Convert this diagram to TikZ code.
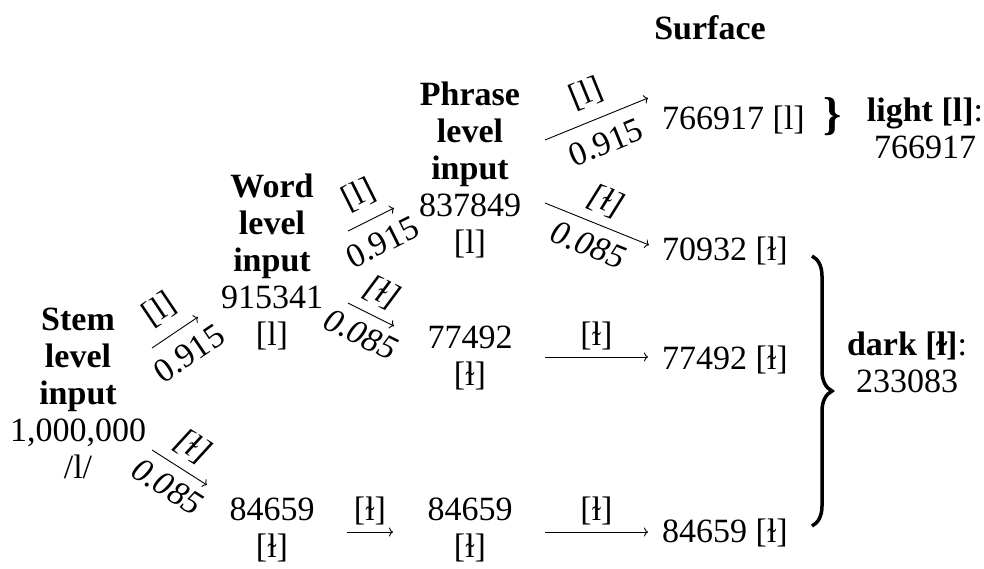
\documentclass[tikz,border=0pt]{standalone}
\usepackage{fontspec}
\setmainfont{Liberation Serif}
\usetikzlibrary{arrows.meta,decorations.pathreplacing}
\begin{document}
\begin{tikzpicture}[x=1pt,y=-1pt,
  every node/.style={font=\fontsize{34}{37}\selectfont, inner sep=0pt},
  state/.style={align=center},
  val/.style={anchor=west},
  arr/.style={-{To[length=4pt,width=9pt]}, line width=0.9pt},
  lab/.style={sloped, text height=23pt, text depth=7pt, anchor=center},
  up/.style={yshift=26pt},
  dn/.style={yshift=-28.5pt},
  upi/.style={yshift=22.5pt},
  dni/.style={yshift=-25.5pt},
  flat/.style={yshift=20pt},
]
\useasboundingbox (0,0) rectangle (984,568);

% column headings and states
\node[font=\fontsize{34}{37}\selectfont\bfseries] (surf) at (710,28) {Surface};
\node[state] (stem) at (78,393) {\textbf{Stem}\\\textbf{level}\\\textbf{input}\\1,000,000\\/l/};
\node[state] (word) at (272,262) {\textbf{Word}\\\textbf{level}\\\textbf{input}\\915341\\{[l]}};
\node[state] (wdark) at (272,530) {84659\\{[ɫ]}};
\node[state] (phr) at (470,170) {\textbf{Phrase}\\\textbf{level}\\\textbf{input}\\837849\\{[l]}};
\node[state] (pdark) at (470,358) {77492\\{[ɫ]}};
\node[state] (pdark2) at (470,530) {84659\\{[ɫ]}};

% surface forms
\node[val] (s1) at (662,120) {766917 [l]};
\node[val] (s2) at (662,251) {70932 [ɫ]};
\node[val] (s3) at (662,360) {77492 [ɫ]};
\node[val] (s4) at (662,533) {84659 [ɫ]};

% totals
\node[font=\fontsize{46}{46}\selectfont\bfseries] (lbr) at (833,117) {\}};
\node[state] (light) at (925,128) {\textbf{light [l]}:\\766917};
\node[state] (dark) at (907,362) {\textbf{dark [ɫ]}:\\233083};
\coordinate (btop) at (812,256);
\coordinate (bbot) at (812,526);
\draw[decorate, decoration={brace, amplitude=20pt}, line width=3.5pt] (btop) -- (bbot);

% stem level
\draw[arr] ([shift={(74,-45)}]stem.center) -- ([shift={(-74,55)}]word.center)
  node[lab,up,midway] {[l]} node[lab,dn,midway] {0.915};
\draw[arr] ([shift={(74,57)}]stem.center) -- ([shift={(-65,-45)}]wdark.center)
  node[lab,upi,midway] {\itshape [ɫ]} node[lab,dni,midway] {\itshape 0.085};

% word level
\draw[arr] ([shift={(76,-31)}]word.center) -- ([shift={(-76,38)}]phr.center)
  node[lab,up,midway] {[l]} node[lab,dn,midway] {0.915};
\draw[arr] ([shift={(76,41)}]word.center) -- ([shift={(-76,-32)}]pdark.center)
  node[lab,upi,midway] {\itshape [ɫ]} node[lab,dni,midway] {\itshape 0.085};
\draw[arr] ([shift={(75,2)}]wdark.center) -- ([shift={(-77,2)}]pdark2.center)
  node[lab,flat,midway] {[ɫ]};

% phrase level
\draw[arr] ([shift={(75,-30)}]phr.center) -- ([shift={(-14,-22)}]s1.west)
  node[lab,up,midway] {[l]} node[lab,dn,midway] {0.915};
\draw[arr] ([shift={(75,33)}]phr.center) -- ([shift={(-13,-6)}]s2.west)
  node[lab,upi,midway] {\itshape [ɫ]} node[lab,dni,midway] {\itshape 0.085};
\draw[arr] ([shift={(75,-1)}]pdark.center) -- ([shift={(-14,-3)}]s3.west)
  node[lab,flat,midway] {[ɫ]};
\draw[arr] ([shift={(75,2)}]pdark2.center) -- ([shift={(-14,-1)}]s4.west)
  node[lab,flat,midway] {[ɫ]};
\end{tikzpicture}
\end{document}
